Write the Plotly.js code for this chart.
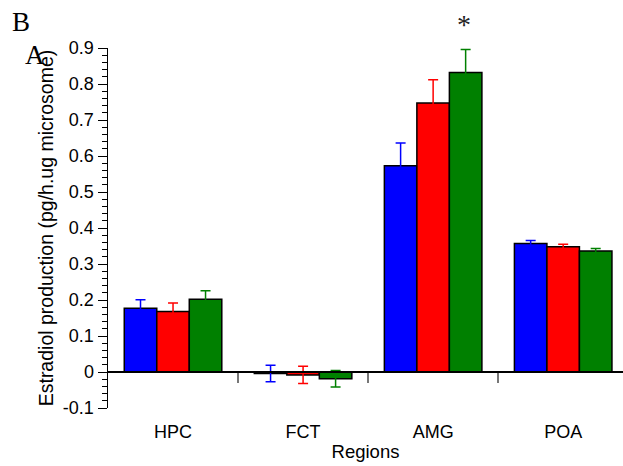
<!DOCTYPE html>
<html>
<head>
<meta charset="utf-8">
<script src="https://cdn.plot.ly/plotly-3.0.1.min.js"></script>
<style>html,body{margin:0;padding:0;background:#fff;}#chart{width:623px;height:466px;}</style>
</head>
<body>
<div id="chart"></div>
<script>
const categories = ["HPC", "FCT", "AMG", "POA"];
const seriesBlue = [0.177, -0.004, 0.573, 0.357];
const seriesRed = [0.168, -0.008, 0.747, 0.348];
const seriesGreen = [0.202, -0.019, 0.832, 0.336];
const errBlue = [0.024, 0.023, 0.063, 0.008];
const errRed = [0.024, 0.024, 0.065, 0.007];
const errGreen = [0.024, 0.023, 0.064, 0.007];
const yTickVals = [-0.1, 0, 0.1, 0.2, 0.3, 0.4, 0.5, 0.6, 0.7, 0.8, 0.9];
const yTickText = ["-0.1", "0", "0.1", "0.2", "0.3", "0.4", "0.5", "0.6", "0.7", "0.8", "0.9"];

const xIdx = categories.map((c, i) => i);
function barTrace(vals, errs, color) {
  return {
    type: "bar", x: xIdx, y: vals,
    marker: {color: color, line: {color: "#000", width: 1.5}},
    error_y: {type: "data", array: errs, visible: true, color: color, thickness: 1.5, width: 5},
    showlegend: false, hoverinfo: "skip"
  };
}
const data = [
  barTrace(seriesBlue, errBlue, "#0000ff"),
  barTrace(seriesRed, errRed, "#ff0000"),
  barTrace(seriesGreen, errGreen, "#008000")
];
const xr = [-0.5, 3.46];
const layout = {
  width: 623, height: 466,
  margin: {l: 108, r: 0, t: 48, b: 58},
  paper_bgcolor: "#fff", plot_bgcolor: "#fff",
  barmode: "group", bargap: 0.25, bargroupgap: 0,
  font: {family: "Liberation Sans, Arial, sans-serif", size: 18, color: "#000"},
  xaxis: {
    range: xr, anchor: "free", position: 0.1,
    tickvals: [0.5, 1.5, 2.5], showticklabels: false,
    ticks: "outside", ticklen: 10, tickwidth: 1.5, tickcolor: "#777",
    showline: true, linecolor: "#000", linewidth: 2,
    showgrid: false, zeroline: false
  },
  xaxis2: {
    range: xr, overlaying: "x", anchor: "y", side: "bottom",
    tickvals: xIdx, ticktext: categories, ticks: "",
    ticklabelstandoff: 11,
    showline: false, showgrid: false, zeroline: false,
    tickfont: {size: 18}, title: {text: "Regions", font: {size: 18.5}, standoff: 4}
  },
  yaxis: {
    range: [-0.1, 0.9], tickvals: yTickVals, ticktext: yTickText,
    ticks: "outside", ticklen: 9, tickwidth: 1, tickcolor: "#000",
    minor: {ticks: "outside", ticklen: 5, dtick: 0.02, tickcolor: "#000", tickwidth: 1},
    showline: true, linecolor: "#000", linewidth: 1.5,
    showgrid: false, zeroline: false,
    tickfont: {size: 18},
    title: {text: "Estradiol production (pg/h.ug microsome)", font: {size: 19.5}, standoff: 4}
  },
  annotations: [
    {text: "B", xref: "paper", yref: "paper", x: -0.19, y: 1.12, xanchor: "left", yanchor: "top", showarrow: false,
     font: {family: "Liberation Serif, Times New Roman, serif", size: 27}},
    {text: "A", xref: "paper", yref: "paper", x: -0.165, y: 1.028, xanchor: "left", yanchor: "top", showarrow: false,
     font: {family: "Liberation Serif, Times New Roman, serif", size: 27}},
    {text: "*", xref: "x", yref: "paper", x: 2.24, y: 1.066, xanchor: "center", yanchor: "middle", showarrow: false,
     font: {family: "Liberation Serif, Times New Roman, serif", size: 28, color: "#222"}}
  ]
};
// dummy trace to activate xaxis2
data.push({type: "scatter", x: xIdx, y: [null, null, null, null], xaxis: "x2", yaxis: "y", showlegend: false, hoverinfo: "skip"});
Plotly.newPlot("chart", data, layout, {staticPlot: true});
</script>
</body>
</html>
